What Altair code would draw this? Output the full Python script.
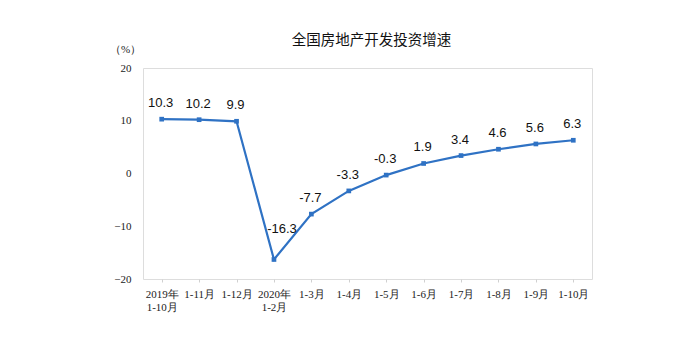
import altair as alt
import pandas as pd

categories = ["2019年\n1-10月", "1-11月", "1-12月", "2020年\n1-2月", "1-3月", "1-4月",
              "1-5月", "1-6月", "1-7月", "1-8月", "1-9月", "1-10月"]
values = [10.3, 10.2, 9.9, -16.3, -7.7, -3.3, -0.3, 1.9, 3.4, 4.6, 5.6, 6.3]
labels = ["10.3", "10.2", "9.9", "-16.3", "-7.7", "-3.3", "-0.3", "1.9", "3.4", "4.6", "5.6", "6.3"]
y_ticks = [-20, -10, 0, 10, 20]

df = pd.DataFrame({"cat": categories, "val": values, "lab": labels})
color = "#2F72C4"

x = alt.X("cat:N", sort=categories,
          axis=alt.Axis(title=None, labelAngle=0, labelExpr="split(datum.label, '\\n')",
                        labelFont="Liberation Serif", labelFontSize=11, labelColor="#222",
                        labelPadding=6, tickSize=3, tickColor="#d0d0d0", domain=False,
                        labelLineHeight=13, labelBaseline="top"),
          scale=alt.Scale(paddingInner=0, paddingOuter=0))
y = alt.Y("val:Q", scale=alt.Scale(domain=[-20, 20], nice=False),
          axis=alt.Axis(values=y_ticks, grid=False, ticks=False, domain=False,
                        labelFont="Liberation Serif", labelFontSize=11, labelColor="#222",
                        labelPadding=12, title="（%）", titleAngle=0, titleX=-18, titleY=-14,
                        titleFont="Liberation Serif", titleFontSize=11, titleFontWeight="normal",
                        titleColor="#222", titleAlign="center"))

base = alt.Chart(df)
line = base.mark_line(color=color, strokeWidth=2.2, point=alt.OverlayMarkDef(
    shape="square", size=22, filled=True, color=color)).encode(x=x, y=y)
text = base.transform_filter("datum.val > -16").mark_text(
    dy=-16, dx=-1, font="Liberation Sans", fontSize=13, color="#111").encode(x=x, y=y, text="lab:N")
text_min = base.transform_filter("datum.val <= -16").mark_text(
    dy=-30, dx=8, font="Liberation Sans", fontSize=13, color="#111").encode(x=x, y=y, text="lab:N")

chart = (line + text + text_min).properties(
    width=449, height=211,
    title=alt.TitleParams("全国房地产开发投资增速", font="Noto Sans CJK SC", fontSize=14.5,
                          fontWeight="normal", color="#111", offset=18, dy=23, dx=4, anchor="middle"),
    autosize=alt.AutoSizeParams(type="none"),
    padding={"left": 143, "top": 68, "right": 93, "bottom": 69},
).configure_view(stroke="#d9d9d9", strokeWidth=1).configure(background="white")

chart.save("out.html", embed_options={"renderer": "svg", "actions": False})
